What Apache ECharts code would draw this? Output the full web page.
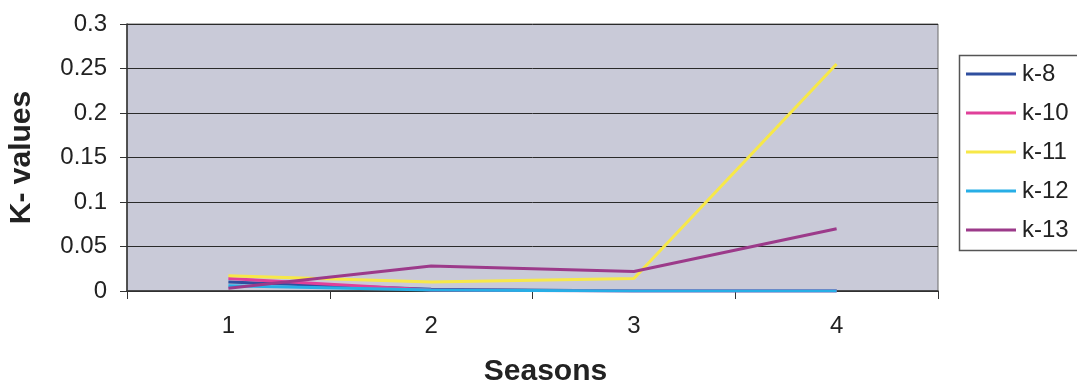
<!DOCTYPE html>
<html><head><meta charset="utf-8">
<script src="https://cdn.jsdelivr.net/npm/echarts@6/dist/echarts.min.js"></script>
<style>html,body{margin:0;padding:0;background:#fff}#c{width:1077px;height:388px}</style>
</head><body><div id="c"></div>
<script>
const categories = ['1', '2', '3', '4'];
const k8  = [0.010, 0.002, 0.000, 0.000];
const k10 = [0.014, 0.001, 0.000, 0.000];
const k11 = [0.017, 0.010, 0.014, 0.255];
const k12 = [0.006, 0.001, 0.000, 0.000];
const k13 = [0.003, 0.028, 0.022, 0.070];
const seriesNames = ['k-8', 'k-10', 'k-11', 'k-12', 'k-13'];
const seriesColors = ['#2f4f9f', '#e0409a', '#f7e848', '#27aee6', '#9c3a8a'];
const seriesData = [k8, k10, k11, k12, k13];

const chart = echarts.init(document.getElementById('c'), null, {renderer: 'canvas'});
const font = 'Liberation Sans, Arial, sans-serif';
chart.setOption({
  animation: false,
  backgroundColor: '#ffffff',
  grid: {left: 127, right: 139, top: 24, bottom: 97, show: true, containLabel: false,
         outerBoundsMode: 'none',
         backgroundColor: '#c9cad8', borderColor: '#6a6a6a', borderWidth: 1},
  legend: {
    orient: 'vertical', left: 966, top: 62, padding: 0, itemGap: 15,
    itemWidth: 50, itemHeight: 3, icon: 'rect',
    textStyle: {fontFamily: font, fontSize: 24, color: '#222', lineHeight: 24, padding: [0,0,0,1]},
    data: seriesNames
  },
  graphic: [{type: 'rect', shape: {x: 959.5, y: 55.5, width: 130, height: 195},
             style: {fill: 'none', stroke: '#555', lineWidth: 1.5}}],
  xAxis: {
    type: 'category', data: categories, boundaryGap: true,
    name: 'Seasons', nameLocation: 'middle', nameGap: 66,
    nameTextStyle: {fontFamily: font, fontSize: 30, fontWeight: 'bold', color: '#222', padding: [0,0,0,26]},
    axisLine: {lineStyle: {color: '#333', width: 1.5}},
    axisTick: {show: true, length: 8, alignWithLabel: false, lineStyle: {color: '#333'}},
    axisLabel: {fontFamily: font, fontSize: 24, color: '#222', margin: 23}
  },
  yAxis: {
    type: 'value', min: 0, max: 0.3, interval: 0.05,
    name: 'K- values', nameLocation: 'middle', nameGap: 90,
    nameTextStyle: {fontFamily: font, fontSize: 30, fontWeight: 'bold', color: '#222'},
    axisLine: {show: true, lineStyle: {color: '#333', width: 1.5}},
    axisTick: {show: true, length: 7, lineStyle: {color: '#333'}},
    axisLabel: {fontFamily: font, fontSize: 24, color: '#222', margin: 20,
                formatter: v => String(parseFloat(v.toFixed(2)))},
    splitLine: {show: true, lineStyle: {color: '#2a2a2a', width: 1}}
  },
  series: seriesNames.map((n, i) => ({
    name: n, type: 'line', data: seriesData[i], symbol: 'none',
    lineStyle: {color: seriesColors[i], width: 3}, itemStyle: {color: seriesColors[i]}
  }))
});
</script></body></html>
